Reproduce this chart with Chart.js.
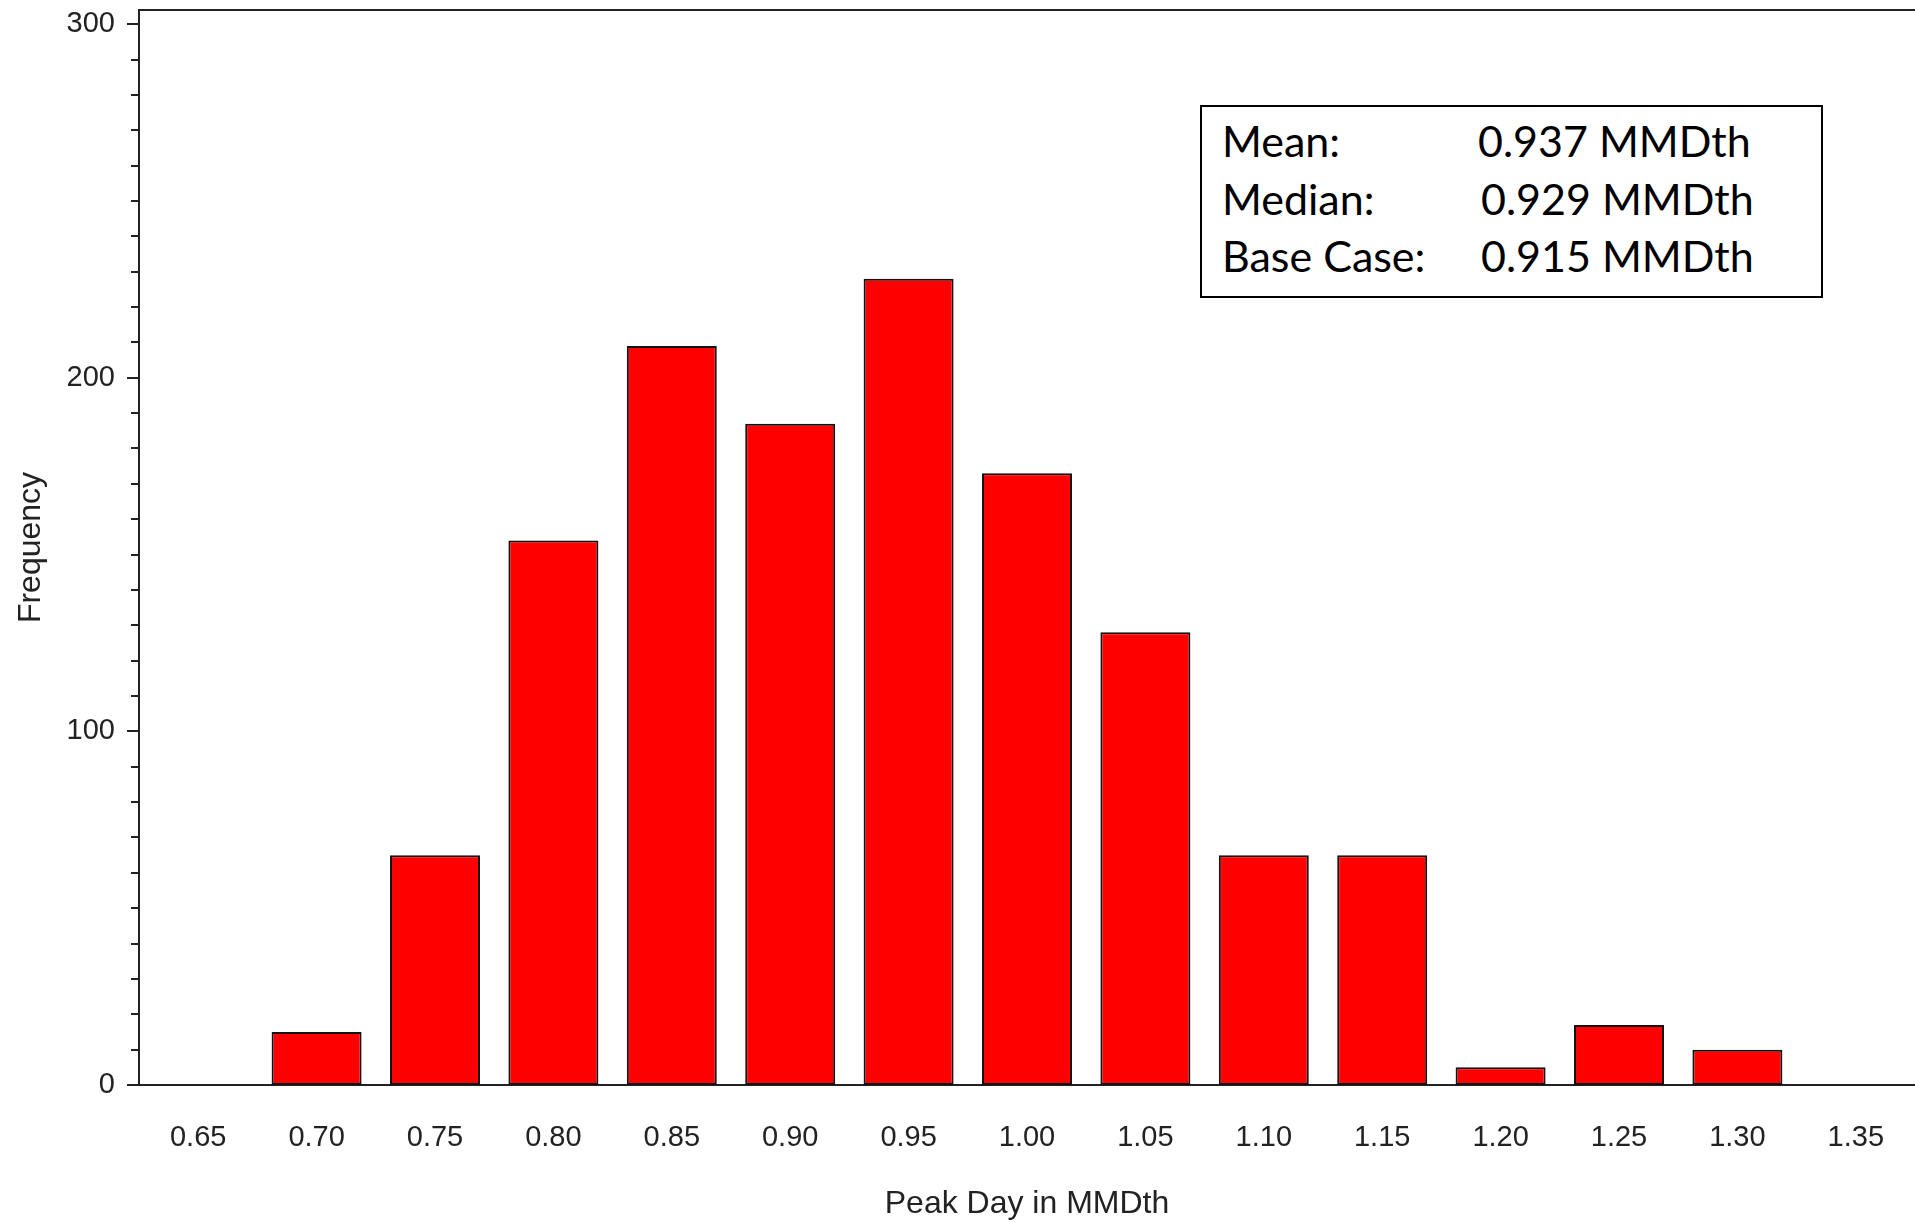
<!DOCTYPE html>
<html>
<head>
<meta charset="utf-8">
<script src="https://cdn.jsdelivr.net/npm/chart.js@4.4.1/dist/chart.umd.min.js"></script>
<style>
  html, body { margin: 0; padding: 0; background: #fff; overflow: hidden; }
  #wrap { position: relative; width: 1915px; height: 1223px; }
  #stats {
    position: absolute; left: 1200px; top: 105px; width: 619px; height: 189px;
    border: 2px solid #000; background: #fff;
    font-family: Lato, "Open Sans", sans-serif; font-size: 43px; color: #000;
  }
  #stats .row { position: absolute; left: 20px; height: 57.5px; line-height: 57.5px; white-space: nowrap; }
</style>
</head>
<body>
<div id="wrap">
  <canvas id="chartContainer" width="1915" height="1223"></canvas>
  <div id="stats"></div>
</div>
<script>
// histogram bins (x categories) and counts
const binLabels = ['0.65', '0.70', '0.75', '0.80', '0.85', '0.90', '0.95', '1.00', '1.05', '1.10', '1.15', '1.20', '1.25', '1.30', '1.35']
const frequency = [0, 15, 65, 154, 209, 187, 228, 173, 128, 65, 65, 5, 17, 10, 0]

// summary box
const statLabels = ['Mean:', 'Median:', 'Base Case:']
const statValues = ['0.937 MMDth', '0.929 MMDth', '0.915 MMDth']

const xTitle = 'Peak Day in MMDth'
const yTitle = 'Frequency'

var box = document.getElementById('stats')
var valueLeft = [276, 279, 279]
for (var i = 0; i < statLabels.length; i++) {
  var row = document.createElement('div')
  row.className = 'row'
  row.style.top = (5 + i * 57.5) + 'px'
  row.textContent = statLabels[i]
  box.appendChild(row)
  var val = document.createElement('div')
  val.className = 'row'
  val.style.left = valueLeft[i] + 'px'
  val.style.top = (5 + i * 57.5) + 'px'
  val.textContent = statValues[i]
  box.appendChild(val)
}

// top frame line + long/short tick marks on the y axis
const frameLines = {
  id: 'frameLines',
  afterDraw(chart) {
    var ctx = chart.ctx
    var area = chart.chartArea
    var y = chart.scales.y
    ctx.save()
    ctx.strokeStyle = '#222'
    ctx.lineWidth = 2
    ctx.beginPath()
    ctx.moveTo(area.left - 1, area.top)
    ctx.lineTo(area.right, area.top)
    y.ticks.forEach(function (t) {
      var py = Math.round(y.getPixelForValue(t.value))
      var len = t.value % 100 === 0 ? 12 : 8
      ctx.moveTo(area.left - len, py)
      ctx.lineTo(area.left, py)
    })
    ctx.stroke()
    ctx.restore()
  }
}

var tickFont = { family: '"Liberation Sans", Arial, sans-serif', size: 29 }
var titleFont = { family: '"Liberation Sans", Arial, sans-serif', size: 32 }

var chart = new Chart(document.getElementById('chartContainer'), {
  type: 'bar',
  data: {
    labels: binLabels,
    datasets: [{
      label: yTitle,
      data: frequency,
      backgroundColor: '#ff0000',
      borderColor: '#111',
      borderWidth: 2,
      borderSkipped: false,
      barPercentage: 0.76,
      categoryPercentage: 1.0
    }]
  },
  options: {
    responsive: false,
    animation: false,
    layout: { padding: { top: 10, left: 0, right: 0, bottom: 0 } },
    plugins: {
      legend: { display: false },
      tooltip: { enabled: false }
    },
    scales: {
      x: {
        type: 'category',
        offset: true,
        grid: { display: false, drawTicks: false },
        border: { display: true, color: '#222', width: 2 },
        ticks: { font: tickFont, color: '#222', padding: 36, maxRotation: 0, autoSkip: false },
        title: { display: true, text: xTitle, font: titleFont, color: '#222', padding: { top: 0, bottom: 0 } },
        afterFit: function (scale) {
          scale.height = 138
          scale.paddingLeft = 0
          scale.paddingRight = 0
        }
      },
      y: {
        min: 0,
        max: 304,
        grid: { display: false, drawTicks: false },
        border: { display: true, color: '#222', width: 2 },
        ticks: {
          stepSize: 10,
          includeBounds: false,
          autoSkip: false,
          font: tickFont,
          color: '#222',
          padding: 24,
          callback: function (v) { return v % 100 === 0 ? v : '' }
        },
        title: { display: true, text: yTitle, font: titleFont, color: '#222', padding: { top: 12, bottom: 0 } },
        afterFit: function (scale) {
          scale.width = 139
          scale.paddingTop = 0
          scale.paddingBottom = 0
        }
      }
    }
  },
  plugins: [frameLines]
})
</script>
</body>
</html>
